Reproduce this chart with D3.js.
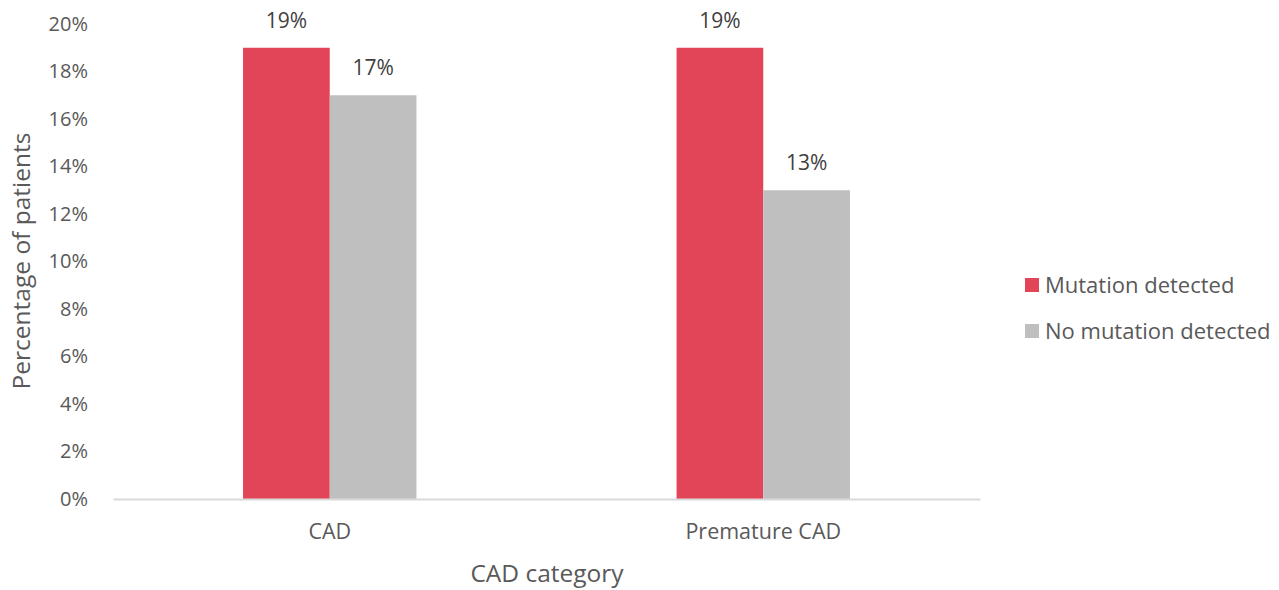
<!DOCTYPE html>
<html>
<head>
<meta charset="utf-8">
<script src="https://cdn.jsdelivr.net/npm/d3@7"></script>
<style>
  html, body { margin: 0; padding: 0; background: #fff; }
  svg { display: block; font-family: "Open Sans", "Noto Sans", sans-serif; }
</style>
</head>
<body>
<svg id="chart" width="1279" height="590"></svg>
<script>
const categories = ["CAD", "Premature CAD"];
const seriesNames = ["Mutation detected", "No mutation detected"];
const mutationDetected = [19, 19];
const noMutationDetected = [17, 13];
const yTicks = [0, 2, 4, 6, 8, 10, 12, 14, 16, 18, 20];
const colors = ["#E24558", "#BFBFBF"];

const seriesValues = [mutationDetected, noMutationDetected];
const rows = categories.map((c, i) => ({
  category: c,
  values: seriesNames.map((s, j) => ({ series: s, value: seriesValues[j][i], color: colors[j] }))
}));

const svg = d3.select("#chart");
const plot = { left: 113, right: 980, top: 24, bottom: 499 };
const fontStack = "'Open Sans', 'Noto Sans', sans-serif";

const x0 = d3.scaleBand().domain(categories).range([plot.left, plot.right]).padding(0);
const groupWidth = x0.bandwidth() * 0.4;
const x1 = d3.scaleBand().domain(seriesNames).range([0, groupWidth]).padding(0);
const y = d3.scaleLinear().domain([0, 20]).range([plot.bottom, plot.top]);

// y tick labels
const yAxis = svg.append("g")
  .attr("transform", `translate(${plot.left},0)`)
  .call(d3.axisLeft(y).tickValues(yTicks).tickFormat(d => d + "%").tickSize(0).tickPadding(25));
yAxis.select(".domain").remove();
yAxis.selectAll("text")
  .attr("fill", "#595959")
  .style("font-size", "20px")
  .style("font-family", fontStack);

// bars
const groups = svg.append("g").selectAll("g")
  .data(rows).join("g")
  .attr("transform", d => `translate(${x0(d.category) + (x0.bandwidth() - groupWidth) / 2},0)`);

groups.selectAll("rect")
  .data(d => d.values).join("rect")
  .attr("x", d => x1(d.series))
  .attr("y", d => y(d.value))
  .attr("width", x1.bandwidth())
  .attr("height", d => y(0) - y(d.value))
  .attr("fill", d => d.color);

groups.selectAll("text.value")
  .data(d => d.values).join("text")
  .attr("class", "value")
  .attr("x", d => x1(d.series) + x1.bandwidth() / 2)
  .attr("y", d => y(d.value) - 20)
  .attr("text-anchor", "middle")
  .attr("fill", "#404040")
  .style("font-size", "21px")
  .text(d => d.value + "%");

// x axis
const xAxis = svg.append("g")
  .attr("transform", `translate(0,${plot.bottom})`)
  .call(d3.axisBottom(x0).tickSize(0).tickPadding(25));
xAxis.select(".domain").attr("stroke", "#D9D9D9").attr("stroke-width", 2);
xAxis.selectAll("text")
  .attr("fill", "#595959")
  .style("font-size", "21.5px")
  .style("font-family", fontStack);

// axis titles
svg.append("text")
  .attr("x", 547)
  .attr("y", 582)
  .attr("text-anchor", "middle")
  .attr("fill", "#595959")
  .style("font-size", "24.5px")
  .text("CAD category");

svg.append("text")
  .attr("transform", `translate(30,261) rotate(-90)`)
  .attr("text-anchor", "middle")
  .attr("fill", "#595959")
  .style("font-size", "24.5px")
  .text("Percentage of patients");

// legend
const legend = svg.append("g").attr("transform", "translate(1025,0)");
const legendRows = [285, 331];
seriesNames.forEach((s, i) => {
  legend.append("rect")
    .attr("x", 0).attr("y", legendRows[i] - 7)
    .attr("width", 14).attr("height", 14)
    .attr("fill", colors[i]);
  legend.append("text")
    .attr("x", 20).attr("y", legendRows[i])
    .attr("dy", "0.35em")
    .attr("fill", "#595959")
    .style("font-size", "22px")
    .text(s);
});
</script>
</body>
</html>
